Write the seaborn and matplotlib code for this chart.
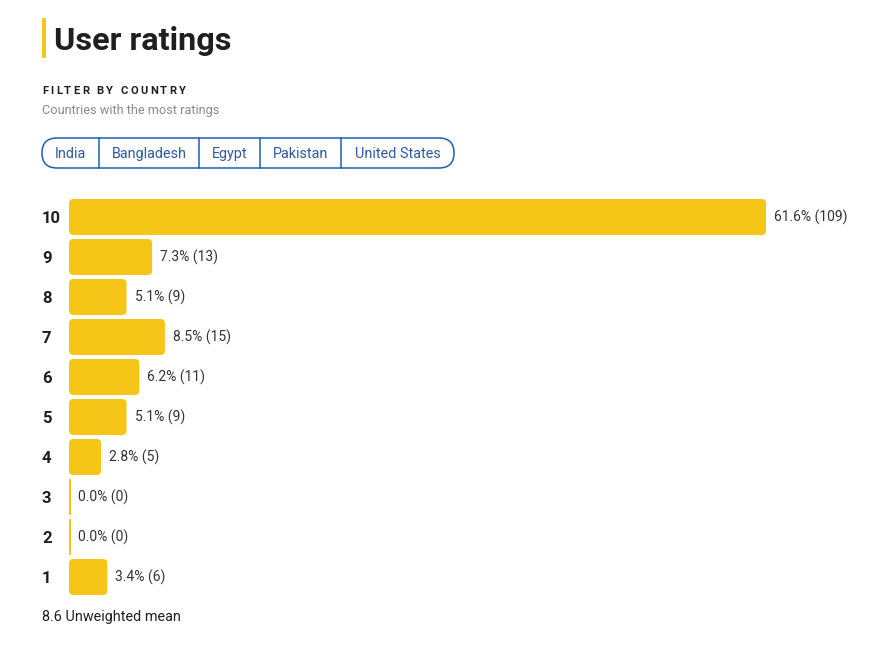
import matplotlib
matplotlib.use("Agg")
import matplotlib.pyplot as plt
from matplotlib.patches import FancyBboxPatch
import seaborn as sns
import pandas as pd

# ---- data ----
ratings = ["10", "9", "8", "7", "6", "5", "4", "3", "2", "1"]
counts = [109, 13, 9, 15, 11, 9, 5, 0, 0, 6]
percents = [61.6, 7.3, 5.1, 8.5, 6.2, 5.1, 2.8, 0.0, 0.0, 3.4]
countries = ["India", "Bangladesh", "Egypt", "Pakistan", "United States"]
mean_label = "8.6 Unweighted mean"
title = "User ratings"
filter_title = "FILTER BY COUNTRY"
filter_sub = "Countries with the most ratings"

YELLOW = "#F5C518"
DARK = "#1f1f1f"
BLUE = "#1a5fb4"
BLUE_TXT = "#2d5aa3"

sns.set_theme(style="white")
plt.rcParams["font.family"] = ["Roboto", "DejaVu Sans"]

W, H = 875, 656
fig = plt.figure(figsize=(W / 100, H / 100), dpi=100)
fig.patch.set_facecolor("white")

# overlay axes in pixel coords for decorations
deco = fig.add_axes([0, 0, 1, 1], zorder=0)
deco.set_xlim(0, W)
deco.set_ylim(H, 0)
deco.axis("off")

# bar axes
px_per_count = 697 / 109
ax_left, ax_right = 69, 870
ax_top, ax_bot = 197, 597
ax = fig.add_axes([ax_left / W, 1 - ax_bot / H, (ax_right - ax_left) / W, (ax_bot - ax_top) / H], zorder=1)
ax.patch.set_alpha(0)

df = pd.DataFrame({"rating": ratings, "count": counts, "pct": percents})
sns.barplot(data=df, y="rating", x="count", order=ratings, orient="h",
            color=YELLOW, saturation=1, width=0.9, ax=ax)
ax.set_xlim(0, (ax_right - ax_left) / px_per_count)
ax.set_ylim(len(ratings) - 0.5, -0.5)

# replace rectangles with rounded bars
r_x = 4.5 / px_per_count
r_y = 4.5 / 40.0
for p in list(ax.patches):
    x0, y0 = p.get_x(), p.get_y()
    w, h = p.get_width(), p.get_height()
    p.remove()
    if w > 0:
        fb = FancyBboxPatch((x0, y0), w, h,
                            boxstyle=f"round,pad=0,rounding_size={r_x}",
                            mutation_aspect=r_y / r_x,
                            facecolor=YELLOW, edgecolor="none")
        ax.add_patch(fb)
    else:
        ax.plot([x0 + 0.6 / px_per_count] * 2, [y0, y0 + h], color=YELLOW,
                lw=1.5, solid_capstyle="butt")

for i, (c, pc) in enumerate(zip(counts, percents)):
    off = 8 * 0.72 if c > 0 else 9 * 0.72
    ax.annotate(f"{pc:.1f}% ({c})", xy=(c, i), xytext=(off, 0),
                textcoords="offset points",
                va="center", ha="left", fontsize=10, color="#333333")

ax.set_xlabel("")
ax.set_ylabel("")
ax.set_xticks([])
ax.tick_params(axis="y", length=0, pad=27 * 0.72)
for lab in ax.get_yticklabels():
    lab.set_horizontalalignment("left")
    lab.set_fontweight("bold")
    lab.set_fontsize(12)
    lab.set_color(DARK)
sns.despine(ax=ax, left=True, bottom=True)

# title with yellow accent
deco.add_patch(FancyBboxPatch((42, 18), 4, 40, boxstyle="round,pad=0,rounding_size=1.5",
                              facecolor=YELLOW, edgecolor="none"))
deco.text(54, 50, title, fontsize=23.3, fontweight="bold", color=DARK, va="baseline", ha="left")

# letter-spaced heading
fig.canvas.draw()
renderer = fig.canvas.get_renderer()
x = 42.0
for ch in filter_title:
    t = deco.text(x, 94, ch, fontsize=8, fontweight="bold", color=DARK, va="baseline", ha="left")
    if ch == " ":
        adv = 3.0
    else:
        bb = t.get_window_extent(renderer)
        adv = bb.width
    x += adv + 2.3

deco.text(42, 114, filter_sub, fontsize=9.2, color="#8a8a8a", va="baseline", ha="left")

# country button group
bx0, bx1, by0, by1 = 42, 454, 138, 168
deco.add_patch(FancyBboxPatch((bx0, by0), bx1 - bx0, by1 - by0,
                              boxstyle="round,pad=0,rounding_size=15",
                              facecolor="none", edgecolor=BLUE, lw=1.1))
dividers = [99, 199, 260, 341]
for dx in dividers:
    deco.plot([dx, dx], [by0, by1], color=BLUE, lw=1.1)
edges = [bx0] + dividers + [bx1]
for i, name in enumerate(countries):
    cx = (edges[i] + edges[i + 1]) / 2
    deco.text(cx, 158, name, fontsize=10.4, color=BLUE_TXT, ha="center", va="baseline")

deco.text(42, 621, mean_label, fontsize=10.4, color=DARK, va="baseline", ha="left")

fig.savefig("out.png", dpi=100, facecolor="white")
